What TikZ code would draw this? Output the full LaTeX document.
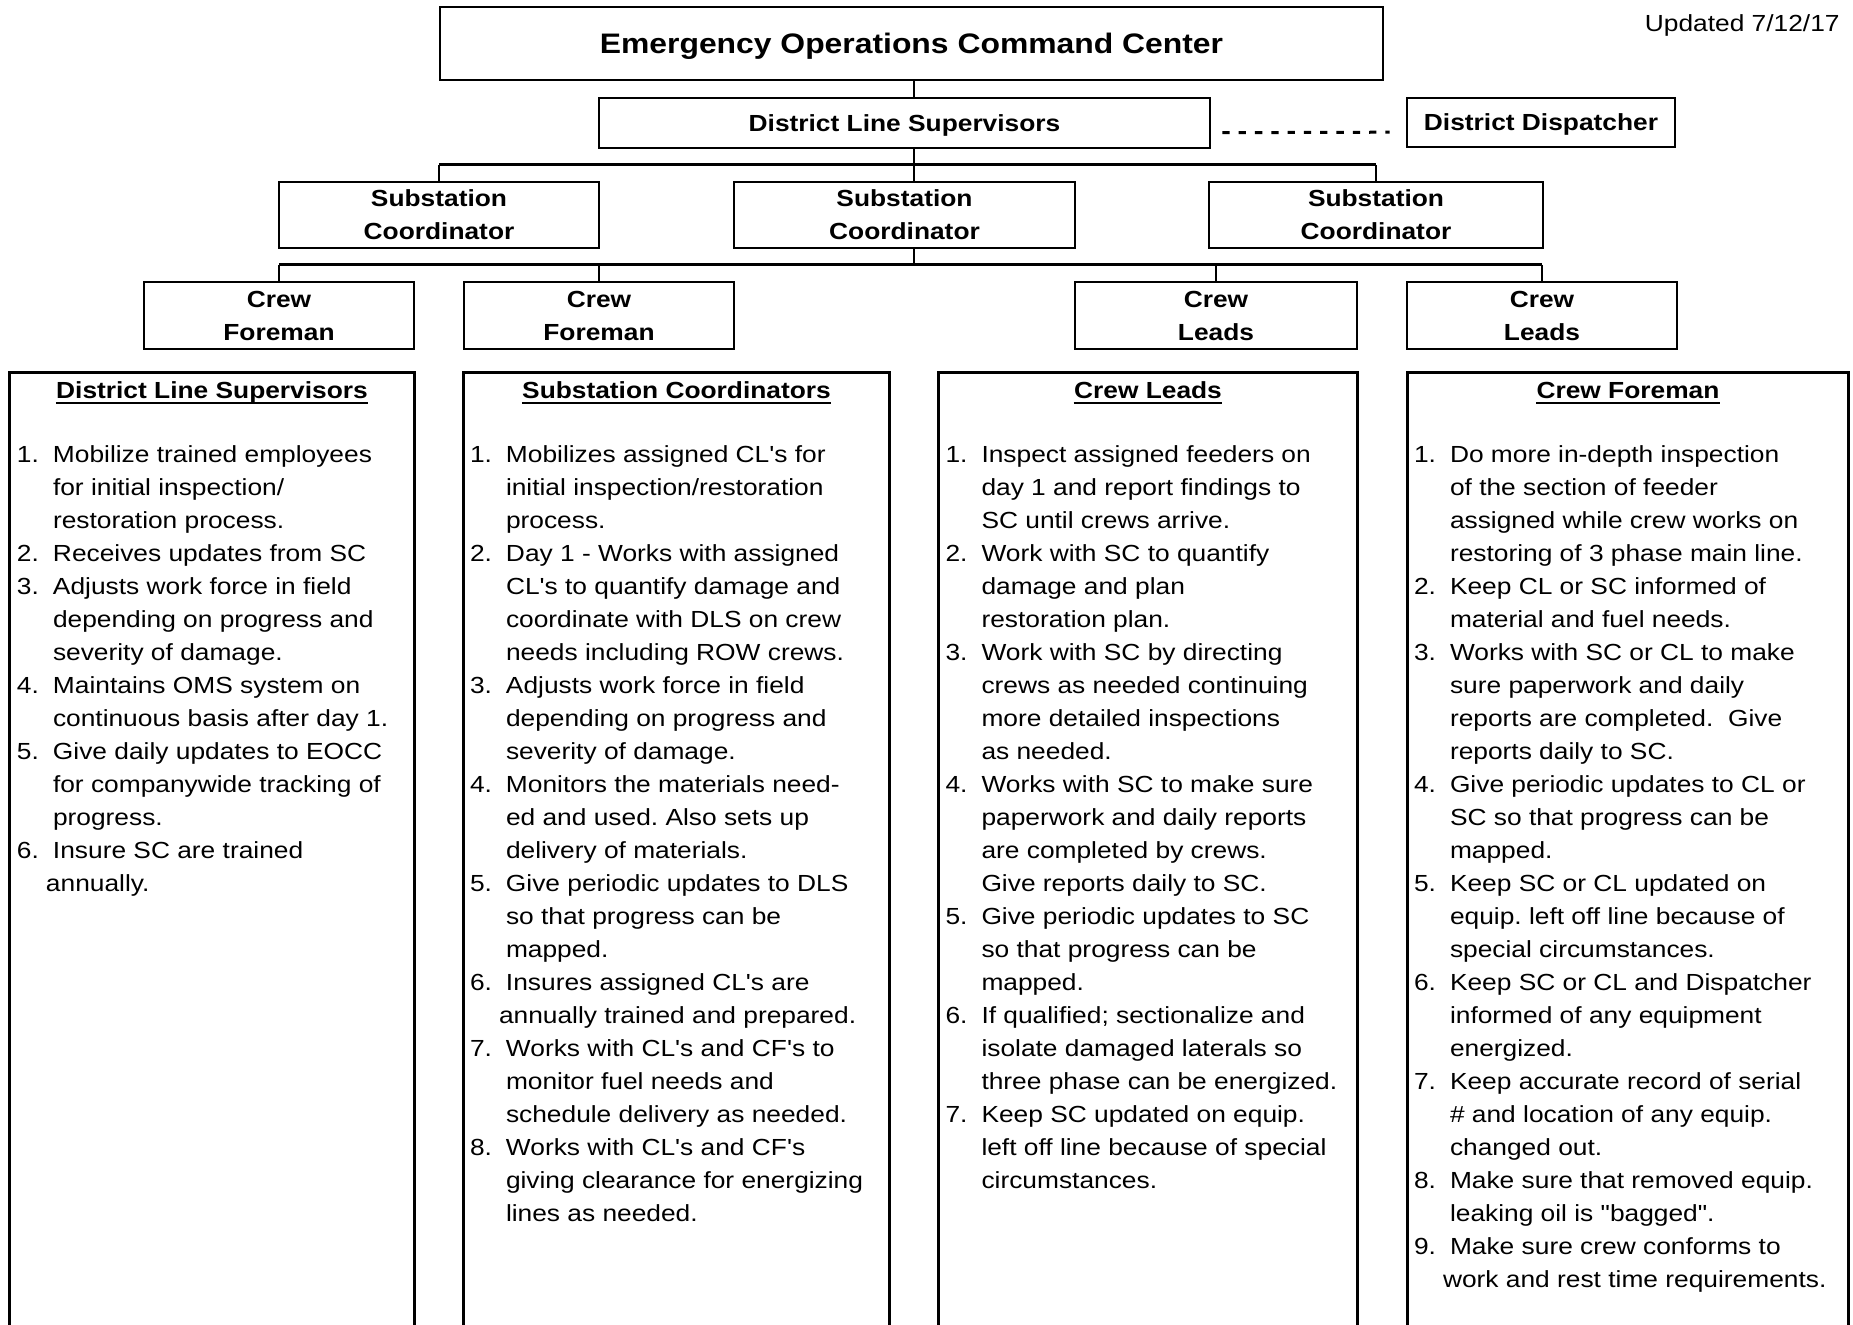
\documentclass[tikz,border=0pt]{standalone}
\usepackage{fontspec}
\newfontfamily\chartfont{Liberation Sans}[FakeStretch=1.13]
\usetikzlibrary{calc}
\frenchspacing

\tikzset{
  box/.style={draw, line width=1.35pt, inner sep=0pt, align=center,
    font=\chartfont\fontsize{11.65}{16.5}\selectfont\bfseries},
  bus/.style={line width=1.5pt},
  drop/.style={line width=1.1pt},
  dashline/.style={line width=1.5pt, dash pattern=on 3.65pt off 4.5pt},
  colframe/.style={inner sep=0pt, minimum height=476pt},
  colline/.style={line width=1.3pt},
  head/.style={inner sep=0pt, font=\chartfont\fontsize{11.65}{16.5}\selectfont\bfseries},
  uline/.style={line width=1pt},
  duties/.style={inner sep=0pt, anchor=base west, font=\chartfont\fontsize{11.65}{16.5}\selectfont},
}

\begin{document}
\begin{tikzpicture}[x=0.5pt, y=-0.5pt]
  \path[fill=white, use as bounding box] (0,0) rectangle (1853,1325);

  % chart boxes
  \node[box, text depth=0pt, font=\chartfont\fontsize{14.1}{17}\selectfont\bfseries,
        minimum width=471.5pt, minimum height=36.5pt] (eocc) at (911.5,43.5) {Emergency Operations Command Center};
  \node[box, text depth=0pt, minimum width=305.5pt, minimum height=25pt] (dls) at (904.5,123) {District Line Supervisors};
  \node[box, text depth=0pt, minimum width=134pt, minimum height=24.5pt] (dd) at (1541,122.5) {District Dispatcher};
  \node[box, minimum width=160pt, minimum height=33pt] (sc1) at (439,215) {Substation\\Coordinator};
  \node[box, minimum width=170.5pt, minimum height=33pt] (sc2) at (904.5,215) {Substation\\Coordinator};
  \node[box, minimum width=167pt, minimum height=33pt] (sc3) at (1376,215) {Substation\\Coordinator};
  \node[box, minimum width=135pt, minimum height=33.5pt] (cf1) at (279,315.5) {Crew\\Foreman};
  \node[box, minimum width=135pt, minimum height=33.5pt] (cf2) at (599,315.5) {Crew\\Foreman};
  \node[box, minimum width=141pt, minimum height=33.5pt] (cl1) at (1216,315.5) {Crew\\Leads};
  \node[box, minimum width=135pt, minimum height=33.5pt] (cl2) at (1542,315.5) {Crew\\Leads};

  \node[inner sep=0pt, anchor=base east, font=\chartfont\fontsize{11.65}{16.5}\selectfont] (upd) at (1840,32) {Updated 7/12/17};

  % connectors
  \coordinate (trunk) at (914,165);
  \coordinate (split) at (914,265);
  \draw[drop] (eocc.south -| trunk) -- (dls.north -| trunk);
  \draw[drop] (dls.south -| trunk) -- (trunk);
  \draw[bus] (sc1.north |- trunk) -- (sc3.north |- trunk);
  \draw[drop] (sc1.north |- trunk) -- (sc1.north);
  \draw[drop] (trunk) -- (sc2.north -| trunk);
  \draw[drop] (sc3.north |- trunk) -- (sc3.north);
  \draw[drop] (sc2.south -| split) -- (split);
  \draw[bus] (cf1.north |- split) -- (cl2.north |- split);
  \foreach \n in {cf1,cf2,cl1,cl2}
    \draw[drop] (\n.north |- split) -- (\n.north);
  \draw[dashline] ([shift={(5.5pt,-4.85pt)}]dls.east) -- ([shift={(-8pt,-4.85pt)}]dd.west);

  % duty columns
  \node[colframe, minimum width=202pt] (colA) at (212,849) {};
  \node[colframe, minimum width=212.5pt] (colB) at (676.5,849) {};
  \node[colframe, minimum width=209pt] (colC) at (1148,849) {};
  \node[colframe, minimum width=220pt] (colD) at (1628,849) {};
  \foreach \c in {colA,colB,colC,colD}
    \draw[colline] (\c.south west) |- (\c.north east) -- (\c.south east);

  \node[head, anchor=base] (hA) at ([yshift=-13pt]colA.north) {District Line Supervisors};
  \node[head, anchor=base] (hB) at ([yshift=-13pt]colB.north) {Substation Coordinators};
  \node[head, anchor=base] (hC) at ([yshift=-13pt]colC.north) {Crew Leads};
  \node[head, anchor=base] (hD) at ([yshift=-13pt]colD.north) {Crew Foreman};
  \foreach \h in {hA,hB,hC,hD}
    \draw[uline] ([yshift=-2pt]\h.base west) -- ([yshift=-2pt]\h.base east);

  \node[duties] (lA) at ([shift={(3.5pt,-45pt)}]colA.north west) {%
    \begin{tabular}[t]{@{}p{18pt}@{}l@{}}
    1. & Mobilize trained employees\\
       & for initial inspection/\\
       & restoration process.\\
    2. & Receives updates from SC\\
    3. & Adjusts work force in field\\
       & depending on progress and\\
       & severity of damage.\\
    4. & Maintains OMS system on\\
       & continuous basis after day 1.\\
    5. & Give daily updates to EOCC\\
       & for companywide tracking of\\
       & progress.\\
    6. & Insure SC are trained\\
       & \hspace*{-3.5pt}annually.
    \end{tabular}};

  \node[duties] (lB) at ([shift={(3pt,-45pt)}]colB.north west) {%
    \begin{tabular}[t]{@{}p{18pt}@{}l@{}}
    1. & Mobilizes assigned CL's for\\
       & initial inspection/restoration\\
       & process.\\
    2. & Day 1 - Works with assigned\\
       & CL's to quantify damage and\\
       & coordinate with DLS on crew\\
       & needs including ROW crews.\\
    3. & Adjusts work force in field\\
       & depending on progress and\\
       & severity of damage.\\
    4. & Monitors the materials need-\\
       & ed and used. Also sets up\\
       & delivery of materials.\\
    5. & Give periodic updates to DLS\\
       & so that progress can be\\
       & mapped.\\
    6. & Insures assigned CL's are\\
       & \hspace*{-3.5pt}annually trained and prepared.\\
    7. & Works with CL's and CF's to\\
       & monitor fuel needs and\\
       & schedule delivery as needed.\\
    8. & Works with CL's and CF's\\
       & giving clearance for energizing\\
       & lines as needed.
    \end{tabular}};

  \node[duties] (lC) at ([shift={(3.25pt,-45pt)}]colC.north west) {%
    \begin{tabular}[t]{@{}p{18pt}@{}l@{}}
    1. & Inspect assigned feeders on\\
       & day 1 and report findings to\\
       & SC until crews arrive.\\
    2. & Work with SC to quantify\\
       & damage and plan\\
       & restoration plan.\\
    3. & Work with SC by directing\\
       & crews as needed continuing\\
       & more detailed inspections\\
       & as needed.\\
    4. & Works with SC to make sure\\
       & paperwork and daily reports\\
       & are completed by crews.\\
       & Give reports daily to SC.\\
    5. & Give periodic updates to SC\\
       & so that progress can be\\
       & mapped.\\
    6. & If qualified; sectionalize and\\
       & isolate damaged laterals so\\
       & three phase can be energized.\\
    7. & Keep SC updated on equip.\\
       & left off line because of special\\
       & circumstances.
    \end{tabular}};

  \node[duties] (lD) at ([shift={(3pt,-45pt)}]colD.north west) {%
    \begin{tabular}[t]{@{}p{18pt}@{}l@{}}
    1. & Do more in-depth inspection\\
       & of the section of feeder\\
       & assigned while crew works on\\
       & restoring of 3 phase main line.\\
    2. & Keep CL or SC informed of\\
       & material and fuel needs.\\
    3. & Works with SC or CL to make\\
       & sure paperwork and daily\\
       & reports are completed.\ \ Give\\
       & reports daily to SC.\\
    4. & Give periodic updates to CL or\\
       & SC so that progress can be\\
       & mapped.\\
    5. & Keep SC or CL updated on\\
       & equip. left off line because of\\
       & special circumstances.\\
    6. & Keep SC or CL and Dispatcher\\
       & informed of any equipment\\
       & energized.\\
    7. & Keep accurate record of serial\\
       & \# and location of any equip.\\
       & changed out.\\
    8. & Make sure that removed equip.\\
       & leaking oil is "bagged".\\
    9. & Make sure crew conforms to\\
       & \hspace*{-3.5pt}work and rest time requirements.
    \end{tabular}};
\end{tikzpicture}
\end{document}
